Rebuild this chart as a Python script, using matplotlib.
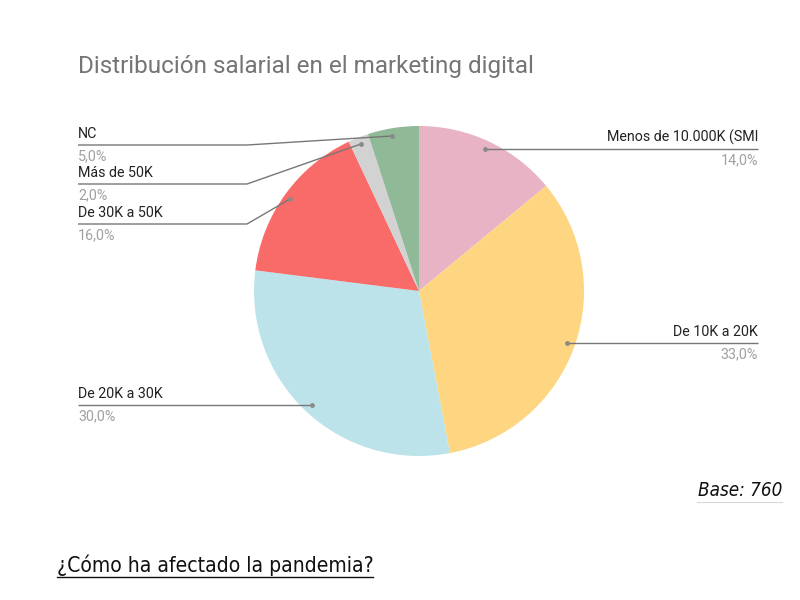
import matplotlib
matplotlib.use("Agg")
import matplotlib.pyplot as plt

# data
labels = ["Menos de 10.000K (SMI", "De 10K a 20K", "De 20K a 30K",
          "De 30K a 50K", "Más de 50K", "NC"]
values = [14.0, 33.0, 30.0, 16.0, 2.0, 5.0]
colors = ["#e8b3c5", "#fed580", "#bde3ea", "#f86b69", "#d2d2d2", "#8fb997"]

# label placement (pixel coords, y from top): dot, elbow, line end, side
callouts = [
    ((485, 149), None, 758, "right", 149),
    ((567, 343), None, 758, "right", 343),
    ((312, 405), None, 78, "left", 405),
    ((290, 199), (247, 224), 78, "left", 224),
    ((361, 144), (247, 184), 78, "left", 184),
    ((392, 136), (247, 145), 78, "left", 145),
]

plt.rcParams['font.family'] = ['Roboto', 'DejaVu Sans']

fig = plt.figure(figsize=(8, 6), dpi=100)
ax = fig.add_axes([0, 0, 1, 1])

H = 600
ax.pie(values, colors=colors, startangle=90, counterclock=False,
       center=(419, H - 291), radius=165, frame=True,
       wedgeprops=dict(linewidth=0))
ax.set_xlim(0, 800)
ax.set_ylim(0, 600)
ax.axis("off")

for (lab, val), (dot, elbow, xend, side, yline) in zip(zip(labels, values), callouts):
    xs = [dot[0]]
    ys = [H - dot[1]]
    if elbow:
        xs.append(elbow[0]); ys.append(H - elbow[1])
    else:
        xs.append(dot[0]); ys.append(H - yline)
    xs.append(xend); ys.append(H - yline)
    ax.plot(xs, ys, color="#777777", lw=1.0, solid_capstyle="butt")
    ax.plot(dot[0], H - dot[1], "o", color="#8a8a8a", ms=3.5, mec="none")
    ha = "left" if side == "left" else "right"
    ax.text(xend, H - yline + 4, lab, ha=ha, va="bottom", fontsize=10.3,
            color="#222222")
    ax.text(xend, H - yline - 4, ("%.1f%%" % val).replace(".", ","), ha=ha,
            va="top", fontsize=10.3, color="#a0a0a0")

ax.text(78, H - 67, "Distribución salarial en el marketing digital",
        fontsize=17.5, color="#757575", va="center", ha="left")

ax.text(782, H - 491, "Base: 760", fontsize=13.5, style="italic",
        family=["DejaVu Sans"], fontstretch="condensed", ha="right",
        va="center", color="#111111")
ax.plot([697, 782], [H - 502, H - 502], color="#d8d8d8", lw=0.8)

ax.text(57, H - 565, "¿Cómo ha afectado la pandemia?", fontsize=15.1,
        family=["DejaVu Sans"], fontstretch="condensed", ha="left",
        va="center", color="#111111")
ax.plot([57, 373], [H - 577, H - 577], color="#111111", lw=1.0)

fig.savefig("out.png", dpi=100)
